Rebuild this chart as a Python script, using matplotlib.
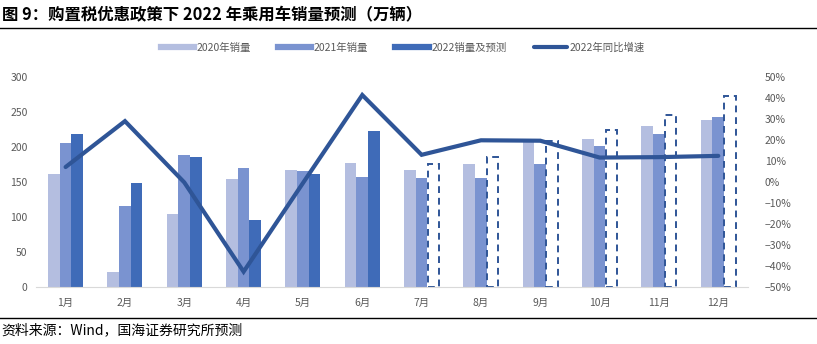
import numpy as np
import matplotlib.pyplot as plt
from matplotlib.lines import Line2D

plt.rcParams['font.family'] = ['Noto Sans CJK SC', 'DejaVu Sans']

months = ['1月', '2月', '3月', '4月', '5月', '6月', '7月', '8月', '9月', '10月', '11月', '12月']
sales_2020 = [161, 22, 104, 154, 167, 177, 167, 175, 208, 211, 230, 238]
sales_2021 = [205, 116, 188, 170, 165, 157, 156, 156, 175, 201, 219, 242]
sales_2022 = [219, 149, 186, 96, 162, 222, 175, 186, 209, 224, 245, 272]
n_actual = 6  # first six months are actual, rest are forecasts
growth_2022 = [7.1, 28.9, -0.2, -42.6, -0.5, 41.3, 12.9, 19.8, 19.6, 11.6, 11.8, 12.4]

C2020 = '#B4BEE0'
C2021 = '#7A93D0'
C2022 = '#3F6BB8'
CLINE = '#2F5597'
GRAY = '#595959'

fig = plt.figure(figsize=(8.17, 3.44), dpi=100)
ax = fig.add_axes([0.044, 0.165, 0.8715, 0.612])
ax2 = ax.twinx()

x = np.arange(len(months))
w = 0.197
ax.bar(x - w, sales_2020, w, color=C2020, zorder=2)
ax.bar(x, sales_2021, w, color=C2021, zorder=2)
ax.bar(x[:n_actual] + w, sales_2022[:n_actual], w, color=C2022, zorder=2)
ax.bar(x[n_actual:] + w, sales_2022[n_actual:], w * 0.95, color='white',
       edgecolor=CLINE, linestyle=(0, (3.5, 2.5)), linewidth=1.4, zorder=2)

ax2.plot(x, growth_2022, color=CLINE, linewidth=3, solid_capstyle='round',
         solid_joinstyle='miter', zorder=3)

ax.set_xlim(-0.5, len(months) - 0.5)
ax.set_ylim(0, 300)
ax.set_yticks(range(0, 301, 50))
ax2.set_ylim(-50, 50)
ax2.set_yticks(range(-50, 51, 10))
ax2.set_yticklabels([f'{v}%'.replace('-', '−') for v in range(-50, 51, 10)])
ax.set_xticks(x)
ax.set_xticklabels(months)

for a in (ax, ax2):
    for s in a.spines.values():
        s.set_visible(False)
    a.tick_params(length=0, labelsize=7.5, labelcolor=GRAY)
ax.spines['bottom'].set_visible(True)
ax.spines['bottom'].set_color('#D9D9D9')
ax.tick_params(axis='x', pad=8)
ax.tick_params(axis='y', pad=6)
ax2.tick_params(axis='y', pad=12)
ax2.set_zorder(ax.get_zorder() + 1)
ax2.patch.set_visible(False)

handles = [Line2D([], [], color=C2020, lw=4.5),
           Line2D([], [], color=C2021, lw=4.5),
           Line2D([], [], color=C2022, lw=4.5),
           Line2D([], [], color=CLINE, lw=3, solid_capstyle='round')]
labels = ['2020年销量', '2021年销量', '2022销量及预测', '2022年同比增速']
fig.legend(handles, labels, loc='center', bbox_to_anchor=(0.493, 0.862), ncol=4,
           frameon=False, fontsize=7.5, labelcolor=GRAY, handlelength=3.2,
           handletextpad=0.25, columnspacing=2.6)

fig.text(0.002, 0.955, '图 9：购置税优惠政策下 2022 年乘用车销量预测（万辆）',
         fontsize=11.8, fontweight='bold', va='center', ha='left')
fig.add_artist(Line2D([0, 1], [0.918, 0.918], color='black', lw=1))
fig.add_artist(Line2D([0, 1], [0.076, 0.076], color='black', lw=1))
fig.text(0.002, 0.04, '资料来源：Wind，国海证券研究所预测', fontsize=10,
         va='center', ha='left')

fig.savefig('out.png', dpi=100)
